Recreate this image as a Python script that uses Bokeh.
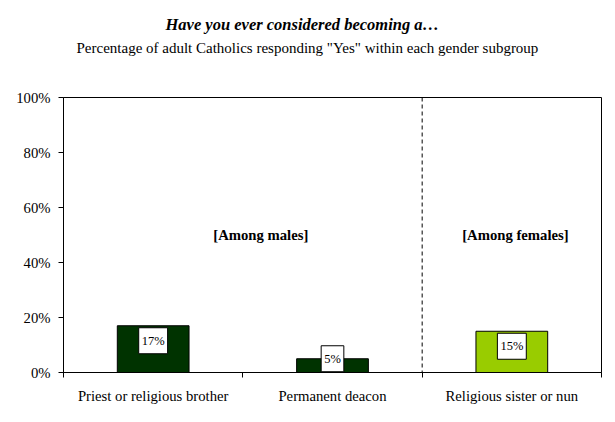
from bokeh.plotting import figure
from bokeh.models import (Range1d, FixedTicker, PrintfTickFormatter, Span, Label,
                          ColumnDataSource, Title)
from bokeh.embed import file_html
from bokeh.resources import INLINE
from bokeh.core.properties import value

# ---- data ----
categories = ["Priest or religious brother", "Permanent deacon", "Religious sister or nun"]
percent_yes = [17, 5, 15]
bar_colors = ["#003300", "#003300", "#99cc00"]
y_ticks = [0, 20, 40, 60, 80, 100]
n_male_categories = 2
group_labels = ["[Among males]", "[Among females]"]
group_label_x = [1.1, 2.52]
group_label_y = [50, 50]
title_text = "Have you ever considered becoming a\u2026"
subtitle_text = 'Percentage of adult Catholics responding "Yes" within each gender subgroup'

FONT = "Liberation Serif"
x_pos = [i + 0.5 for i in range(len(categories))]

p = figure(width=607, height=414, output_backend="svg", toolbar_location=None,
           x_range=Range1d(0, len(categories)), y_range=Range1d(0, 100),
           min_border_left=63, min_border_right=6, min_border_top=97,
           min_border_bottom=42)
p.background_fill_color = "white"
p.border_fill_color = "white"
p.outline_line_color = "black"
p.outline_line_width = 1
p.grid.visible = False

# titles (first added is closest to the plot frame)
p.add_layout(Title(text=" ", text_font_size="1px", standoff=38), "above")
p.add_layout(Title(text=subtitle_text, text_font=FONT, text_font_size="15px",
                   text_font_style="normal", text_color="black", align="left",
                   offset=13, standoff=2), "above")
p.add_layout(Title(text=title_text, text_font=FONT, text_font_size="16.5px",
                   text_font_style="bold italic", text_color="black", align="left",
                   offset=102, standoff=6), "above")

# x axis
xa = p.xaxis[0]
xa.ticker = FixedTicker(ticks=x_pos, minor_ticks=list(range(len(categories) + 1)))
xa.major_label_overrides = {x: c for x, c in zip(x_pos, categories)}
xa.axis_line_color = "black"
xa.major_tick_line_color = None
xa.major_tick_out = 0
xa.major_tick_in = 0
xa.minor_tick_line_color = "black"
xa.minor_tick_out = 5
xa.minor_tick_in = 0
xa.major_label_standoff = 10
xa.major_label_text_font = FONT
xa.major_label_text_font_size = "14.7px"
xa.major_label_text_color = "black"

# y axis
ya = p.yaxis[0]
ya.ticker = FixedTicker(ticks=y_ticks)
ya.formatter = PrintfTickFormatter(format="%d%%")
ya.axis_line_color = "black"
ya.major_tick_line_color = "black"
ya.major_tick_out = 5
ya.major_tick_in = 0
ya.minor_tick_line_color = None
ya.major_label_standoff = 8
ya.major_label_text_font = FONT
ya.major_label_text_font_size = "14.7px"
ya.major_label_text_color = "black"

# bars
src = ColumnDataSource(dict(x=x_pos, top=percent_yes, color=bar_colors))
p.vbar(x="x", top="top", width=0.4, fill_color="color", line_color="black",
       line_width=1, source=src)

# dashed separator between male and female groups
p.add_layout(Span(location=n_male_categories, dimension="height",
                  line_color="black", line_width=1, line_dash="4 3"))

# value labels (boxed)
inside = [v >= 10 for v in percent_yes]
src_in = ColumnDataSource(dict(
    x=[x for x, ok in zip(x_pos, inside) if ok],
    y=[v for v, ok in zip(percent_yes, inside) if ok],
    t=[f"{v}%" for v, ok in zip(percent_yes, inside) if ok]))
src_out = ColumnDataSource(dict(
    x=[x for x, ok in zip(x_pos, inside) if not ok],
    y=[v for v, ok in zip(percent_yes, inside) if not ok],
    t=[f"{v}%" for v, ok in zip(percent_yes, inside) if not ok]))
common = dict(text="t", text_font=value(FONT), text_font_size="12.5px",
              text_color="black", text_align="center",
              background_fill_color="white", border_line_color="black",
              border_line_width=1, padding=(3, 6))
p.text(x="x", y="y", source=src_in, text_baseline="top", y_offset=2, **common)
p.text(x="x", y="y", source=src_out, text_baseline="middle", **common)

# group labels
for t, gx, gy in zip(group_labels, group_label_x, group_label_y):
    p.add_layout(Label(x=gx, y=gy, text=t, text_font=FONT, text_font_size="14.7px",
                       text_font_style="bold", text_align="center",
                       text_baseline="middle", text_color="black"))

open("out.html", "w").write(file_html(p, INLINE))
